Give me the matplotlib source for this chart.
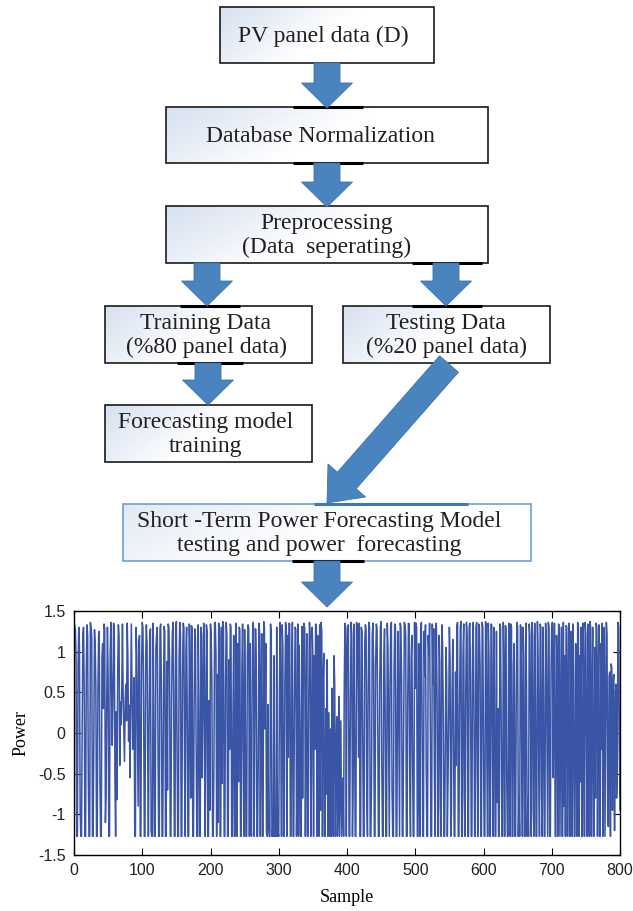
import numpy as np
import matplotlib.pyplot as plt
from matplotlib.patches import Rectangle, Polygon

# power samples (one per sample, 1..800)
power = [
    1.33, 1.28, 0.95, -1.27, -1.27, 0.84, 1.30, 1.05, -0.95, -1.27, -1.27, 0.10, 1.22, 1.30, 0.45, -1.27, -1.27, 0.76, 1.33, 1.20,
    -0.60, -1.27, -1.27, 1.36, 1.30, 1.18, -1.27, -1.27, -0.17, 1.27, 1.10, 0.60, -1.27, -1.27, 0.45, 1.19, 1.25, -0.58, -1.27, -1.27,
    0.93, 1.10, 0.30, 1.34, 1.28, -1.10, -0.75, 0.40, 1.30, 0.68, -1.27, -1.27, 0.95, 1.36, 0.55, -0.15, 0.40, 1.35, 1.30, -0.60,
    -1.27, 0.26, -0.82, 0.70, 1.33, 1.20, -0.40, 0.38, 0.10, 0.54, 1.34, 0.45, 0.02, -0.35, 0.40, 0.60, 0.15, 1.35, 0.90, -0.10,
    0.34, -0.55, 0.45, 1.34, 0.60, -0.20, 0.20, 0.68, -1.27, -1.27, 1.30, 0.95, 0.05, -0.90, 1.12, 1.20, -1.27, -1.27, 0.82, 1.36,
    1.30, 0.40, -1.27, -1.27, 0.95, 1.33, 1.10, -0.30, -1.27, 0.10, 1.20, 1.28, -1.20, -1.27, -1.27, 1.35, 0.32, -1.27, -1.27, 1.05,
    1.20, 1.30, -0.05, -1.27, -1.27, 1.28, 1.34, 0.62, -1.27, -1.27, 0.22, 1.31, 1.25, -1.27, -1.27, 0.88, -0.70, 1.34, 1.30, 0.90,
    -1.27, -1.27, 0.40, 1.20, 1.36, 0.58, -1.27, -1.27, 1.30, 1.37, -0.20, -1.27, -1.27, 0.95, 1.36, 1.22, -1.27, -1.27, 0.70, 1.35,
    1.30, -0.45, -1.27, 1.02, 1.30, 0.15, -1.27, -1.27, 1.34, 0.62, -0.80, 1.32, 1.30, -1.27, -1.27, 0.30, 1.28, 1.15, -0.20, -1.27,
    -1.27, 1.33, 0.45, -1.27, -1.27, 1.30, 1.20, -0.55, 0.20, 1.35, 0.85, -1.27, -0.35, 1.33, 1.25, -1.27, -1.27, 0.40, -0.95, 1.34,
    1.20, 0.65, -1.27, -1.27, -0.40, 1.35, 1.36, 0.98, -1.27, 0.72, -1.10, 1.35, 1.20, -1.27, -1.27, 1.30, -0.62, 1.37, 1.30, -1.27,
    -1.27, 0.55, 1.36, 1.20, -1.27, -1.27, 0.90, -0.20, 1.34, 1.30, -1.27, -1.27, 0.30, 1.20, -1.27, -1.27, 1.35, 0.50, -1.27, 1.10,
    -0.60, 1.30, 1.27, -1.27, -1.27, 0.80, 1.34, -0.15, -1.27, 1.27, 0.15, -1.27, -1.27, 0.95, 1.33, 1.28, -1.27, 1.10, -0.90, -1.27,
    0.60, 1.36, 1.30, -1.27, 0.25, 1.28, 0.88, -1.27, -1.27, -0.30, 1.35, 1.22, -1.27, 0.42, 1.22, -1.27, -1.27, 1.37, 1.30, 0.05,
    1.10, -1.22, -1.27, 0.35, -1.15, -1.27, -1.27, 1.34, 1.20, -1.27, -1.20, -1.27, 0.95, -1.27, -1.10, -1.27, 1.30, -1.27, -1.22, -1.27,
    0.50, 1.36, 0.20, -1.27, 1.33, 1.05, -1.27, -1.27, 0.62, 1.36, 1.30, -1.27, 1.20, -0.30, 1.35, 1.34, -1.27, -1.27, 0.85, 1.36,
    -1.27, -1.27, 0.40, 1.30, 1.27, -1.27, -0.50, 1.34, -1.27, 1.08, 0.25, -1.27, -1.27, 1.31, -0.80, 0.70, 1.35, 1.28, -1.27, 0.10,
    1.22, -1.27, -1.27, 0.45, 1.36, 1.20, -1.27, -0.60, 1.30, 0.95, -1.27, 0.95, -0.20, 1.34, 1.32, -1.27, 1.20, 0.85, -1.27, 1.33,
    -0.95, 1.36, 1.25, -1.27, 0.60, 0.98, -1.27, -1.27, 0.30, -0.75, 0.90, -1.27, 0.25, -0.40, -1.27, 0.05, -1.27, 0.55, -0.85, -1.27,
    0.95, 0.60, -1.27, -0.30, 0.20, -1.27, -0.85, 0.45, -1.27, -0.50, 0.15, -1.27, -0.90, -0.55, -1.27, 0.60, 1.35, 1.30, -1.27, 0.95,
    1.30, 1.33, -1.27, -1.27, 0.40, 1.36, 1.20, -1.27, -0.60, 1.34, 0.20, -1.27, -1.27, 1.36, 1.30, 0.75, -0.30, 1.35, -1.27, -1.27,
    1.30, 1.25, 0.05, -1.27, -1.27, 1.10, 1.33, 1.25, -0.85, -1.27, 0.50, 1.36, 1.30, -1.27, -1.27, -0.55, 1.20, 1.35, 0.85, -1.27,
    -1.27, 0.85, 1.34, 1.28, 0.15, -1.27, -1.27, 0.60, 1.30, 1.37, -0.40, -1.27, -1.27, 0.95, 1.28, 0.20, -1.27, -1.27, 1.35, 1.05,
    -0.20, -1.27, 0.55, 1.32, 1.36, -0.70, -1.27, -1.27, 0.80, 1.34, 1.30, -1.27, -1.27, 0.50, 1.25, -0.10, -1.27, 1.35, 1.30, 0.65,
    -1.27, -1.27, 0.10, 1.36, 1.33, 1.20, -1.27, -1.27, 0.40, 1.35, 1.34, -0.60, -1.27, 0.90, 1.20, -0.15, -1.27, -1.27, 1.36, 0.55,
    1.35, 1.30, -1.27, -1.27, 1.10, -0.80, -1.27, 1.30, 1.36, 0.25, -1.27, -1.27, 1.25, 0.70, 1.33, -0.35, -1.27, -1.27, 1.20, 0.95,
    1.35, 0.15, -1.27, -1.27, 1.34, 0.60, 1.28, -0.45, -1.27, 1.35, 1.30, 0.40, -1.27, -1.27, 1.20, 0.85, -0.90, -1.27, 1.33, 1.10,
    0.30, -1.27, -1.27, -0.20, 1.05, 0.70, -1.27, -0.60, 0.20, 1.30, 0.90, -1.27, -1.00, 0.55, 1.15, 0.10, -1.27, -1.27, 0.75, -0.40,
    1.32, 1.36, -1.27, -1.27, 0.35, 1.30, 1.37, -1.27, -1.27, 0.95, 1.34, -0.75, -1.27, 0.50, 1.36, 1.20, -1.27, -1.27, 1.30, 1.35,
    0.65, -1.27, -1.27, 1.05, 1.36, 0.40, -1.27, -1.27, 1.30, 1.36, -0.40, -1.27, 1.34, 1.30, 0.80, -1.27, -1.27, 1.36, 1.30, -0.20,
    -1.27, -1.27, 1.37, 1.33, -0.40, -1.27, 1.35, 0.95, -1.27, -1.27, 1.34, 1.33, -0.20, -1.27, 1.30, 0.55, -1.27, -1.27, 1.25, -0.85,
    0.30, -1.27, -1.27, 1.34, 1.30, 0.10, -1.27, -1.27, 1.36, 0.70, -1.27, 1.32, 1.30, -0.50, -1.27, -1.27, 1.35, 0.20, -1.27, 1.34,
    1.30, -1.27, -1.27, 0.85, 1.10, -1.27, -1.27, 0.40, 1.36, 1.30, -1.27, -0.80, -1.27, 1.33, 1.30, -0.30, -1.27, 1.30, 0.95, -1.27,
    -1.27, 1.35, 0.60, -1.27, -0.80, -1.27, 1.34, 1.20, 0.15, -1.27, 1.36, 1.20, -0.95, -1.27, 1.35, 0.45, -1.27, -1.27, 1.37, 0.90,
    -0.40, -1.27, 1.34, 1.30, -0.70, -1.27, 1.30, 0.55, -1.27, -1.27, 1.35, 1.10, -0.15, -1.27, 1.36, 1.30, -1.27, -1.27, 0.80, 1.33,
    1.36, -0.55, 0.30, 1.35, -1.27, -1.27, 1.20, 0.65, -1.27, 1.34, 1.30, -1.27, 0.05, 1.30, -1.27, -1.27, 1.36, -0.90, 0.95, -1.27,
    1.32, 1.30, -1.27, 0.40, 1.35, -1.27, -1.27, 1.25, -0.25, -1.27, 1.34, 0.70, -1.27, -1.27, 1.10, 0.25, -1.27, 1.36, 1.30, -1.27,
    0.95, -0.60, 1.30, -1.27, -1.27, 1.35, 0.55, -1.27, 1.36, 1.20, -0.35, -1.27, 1.34, 0.85, -1.27, 1.37, 1.30, -1.27, 0.30, 1.30,
    -1.27, -1.27, 1.05, -0.80, 1.35, 1.30, -1.27, 0.60, 1.33, -1.27, -1.27, 1.10, -0.20, 1.35, -1.27, 0.75, 1.30, -1.27, 0.15, 1.36,
    1.20, -1.10, -1.15, 0.70, 0.75, -1.27, 0.85, 0.80, -0.95, 0.65, 0.72, -1.20, 0.30, 0.60, -0.80, -0.50, 1.36, 1.30, -0.10, -0.95,
]
samples = np.arange(1, len(power) + 1)

x_ticks = [0, 100, 200, 300, 400, 500, 600, 700, 800]
y_ticks = [-1.5, -1, -0.5, 0, 0.5, 1, 1.5]
y_tick_labels = ['-1.5', '-1', '-0.5', '0', '0.5', '1', '1.5']

# flowchart boxes (label, pixel box x0, x1, y0, y1, text centre x)
boxes = [
    ('PV panel data (D)', 220, 434, 7, 63, 323),
    ('Database Normalization', 166, 488, 107, 163, 320),
    ('Preprocessing\n(Data  seperating)', 166, 488, 206, 263, 327),
    ('Training Data\n(%80 panel data)', 105, 312, 306, 363, 206),
    ('Testing Data\n(%20 panel data)', 343, 550, 306, 363, 446),
    ('Forecasting model\ntraining', 105, 312, 405, 462, 206),
]
final_box = ('Short -Term Power Forecasting Model\ntesting and power  forecasting', 123, 531, 504, 561, 319)

# arrows: tail, tip (pixels)
arrows = [
    ((327, 63), (327, 108)),
    ((327, 163), (327, 207)),
    ((207, 263), (207, 306)),
    ((446, 263), (446, 306)),
    ((208, 363), (208, 405)),
    ((327, 561), (327, 607)),
]
diag_arrow = ((449, 364), (327, 503))

shadow_marks = [
    (293, 363, 107, 'k'), (293, 363, 163, 'k'), (412, 482, 263, 'k'),
    (180, 240, 306, 'k'), (177, 243, 363, 'k'), (412, 482, 306, 'k'),
    (314, 468, 504, '#3f78b4'), (292, 364, 561, 'k'),
]

W, H = 633, 911
plt.rcParams['font.family'] = 'Liberation Serif'
fig = plt.figure(figsize=(W / 100, H / 100), dpi=100)

# ---- time series plot ----
ax = fig.add_axes([74 / W, 1 - 855 / H, (620 - 74) / W, (855 - 611) / H])
ax.plot(samples, power, color='#3b55a6', lw=1.1)
ax.set_xlim(0, 800)
ax.set_ylim(-1.5, 1.5)
ax.set_xticks(x_ticks)
ax.set_yticks(y_ticks)
ax.set_yticklabels(y_tick_labels)
ax.tick_params(direction='in', length=5, top=True, right=True, labelsize=11.5, pad=6)
for lab in ax.get_xticklabels() + ax.get_yticklabels():
    lab.set_fontfamily('Liberation Sans')
    lab.set_color('#222222')
ax.set_xlabel('Sample', fontsize=13, labelpad=8)
ax.set_ylabel('Power', fontsize=13, labelpad=6)
for s in ax.spines.values():
    s.set_linewidth(1.0)

# ---- flowchart overlay in pixel coordinates ----
ov = fig.add_axes([0, 0, 1, 1], zorder=5)
ov.patch.set_alpha(0)
ov.axis('off')


def gradient_box(x0, x1, y0, y1, edge, lw, strength):
    u = np.linspace(0, 1, 120)[None, :]
    v = np.linspace(0, 1, 40)[:, None]
    f = np.clip(1 - 1.5 * u - 0.5 * v, 0, 1) * strength
    base = np.array([0.84, 0.88, 0.94])
    img = 1 - f[..., None] * (1 - base)
    im = ov.imshow(img, extent=(x0, x1, y1, y0), aspect='auto', zorder=1)
    rect = Rectangle((x0, y0), x1 - x0, y1 - y0, fill=False, ec=edge, lw=lw, zorder=3)
    ov.add_patch(rect)
    im.set_clip_path(rect)


def arrow(tail, tip, sw=13, hw=25.5, hl=25, zorder=4):
    t = np.array(tail, float)
    p = np.array(tip, float)
    d = p - t
    u = d / np.hypot(*d)
    n = np.array([-u[1], u[0]])
    b = p - hl * u
    pts = [t + sw * n, b + sw * n, b + hw * n, p, b - hw * n, b - sw * n, t - sw * n]
    ov.add_patch(Polygon(pts, closed=True, fc='#4a84bf', ec='#3d72a8', lw=0.6, zorder=zorder))


for label, x0, x1, y0, y1, tx in boxes:
    gradient_box(x0, x1, y0, y1, '#1a1a1a', 1.2, 1.0)
    ov.text(tx, (y0 + y1) / 2 + 1, label, ha='center', va='center', fontsize=17,
            color='#231f20', linespacing=1.15, zorder=6)

label, x0, x1, y0, y1, tx = final_box
gradient_box(x0, x1, y0, y1, '#6a9fd4', 1.2, 0.7)
ov.text(tx, (y0 + y1) / 2 + 1, label, ha='center', va='center', fontsize=17,
        color='#231f20', linespacing=1.15, zorder=6)

for tail, tip in arrows:
    arrow(tail, tip)
arrow(diag_arrow[0], diag_arrow[1], sw=12.5, hw=25, hl=30)

for xa, xb, y, c in shadow_marks:
    ov.plot([xa, xb], [y, y], color=c, lw=2.2, zorder=3.5, solid_capstyle='butt')

ov.set_xlim(0, W)
ov.set_ylim(H, 0)

fig.savefig('out.png', dpi=100)
